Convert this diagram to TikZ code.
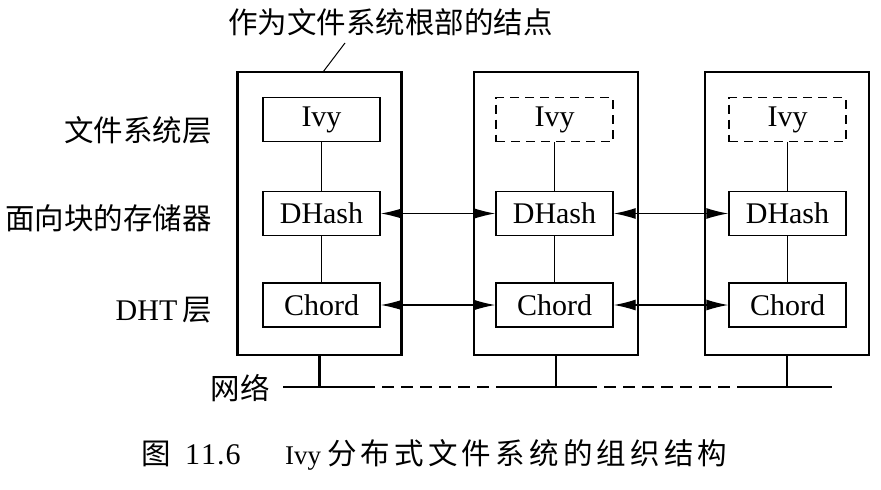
\documentclass[tikz,border=0pt]{standalone}
\usepackage{fontspec}
\setmainfont{Liberation Serif}
\newfontfamily\cjk{Noto Sans CJK SC}
\usetikzlibrary{arrows.meta}
\newcommand{\gapc}{\hspace{4.2pt}}
\begin{document}
\begin{tikzpicture}[x=1pt,y=-1pt,
  outerbox/.style={draw,line width=2.6pt,minimum width=164pt,minimum height=283pt,inner sep=0pt},
  innerbox/.style={draw,line width=1.3pt,minimum width=117pt,minimum height=44pt,inner sep=0pt,font=\fontsize{30}{32}\selectfont},
  ghostbox/.style={innerbox,dashed,dash pattern=on 9pt off 6pt},
  link/.style={line width=1pt},
  peer/.style={line width=1.3pt,{Latex[length=22pt,width=11pt]}-{Latex[length=22pt,width=11pt]}},
  net/.style={line width=2.6pt},
  lbl/.style={font=\cjk\fontsize{29.5}{31}\selectfont,inner sep=0pt}
]
\useasboundingbox (0,0) rectangle (881,490);
\fill[white] (0,0) rectangle (881,490);

% outer nodes
\node[outerbox] (n1) at (319.5,213.5) {};
\node[outerbox] (n2) at (556,213.5) {};
\node[outerbox] (n3) at (787,213.5) {};

% inner boxes
\node[innerbox] (ivy1) at (321.5,119.5) {Ivy};
\node[innerbox] (dh1) at (321.5,213.5) {DHash};
\node[innerbox] (ch1) at (321.5,305) {Chord};
\node[ghostbox] (ivy2) at (554.5,119.5) {Ivy};
\node[innerbox] (dh2) at (554.5,213.5) {DHash};
\node[innerbox] (ch2) at (554.5,305) {Chord};
\node[ghostbox] (ivy3) at (787.5,119.5) {Ivy};
\node[innerbox] (dh3) at (787.5,213.5) {DHash};
\node[innerbox] (ch3) at (787.5,305) {Chord};

\foreach \i in {1,2,3}{
  \draw[link] (ivy\i) -- (dh\i);
  \draw[link] (dh\i) -- (ch\i);
}
\draw[peer] (dh1) -- (dh2);
\draw[peer] (dh2) -- (dh3);
\draw[peer] (ch1) -- (ch2);
\draw[peer] (ch2) -- (ch3);

% network
\coordinate (s1) at (319.5,387);
\coordinate (s2) at (556,387);
\coordinate (s3) at (787,387);
\coordinate (a0) at (283,387);
\coordinate (a1) at (363,387);
\coordinate (a2) at (505,387);
\coordinate (a3) at (585,387);
\coordinate (a4) at (747,387);
\coordinate (a5) at (832,387);
\draw[net] (n1.south) -- (s1);
\draw[net] (n2.south) -- (s2);
\draw[net] (n3.south) -- (s3);
\draw[net] (a0) -- (a1);
\draw[net,dash pattern=on 12pt off 7pt] (a1) -- (a2);
\draw[net] (a2) -- (a3);
\draw[net,dash pattern=on 12pt off 7pt] (a3) -- (a4);
\draw[net] (a4) -- (a5);

% labels
\node[lbl,anchor=east] (lfs) at (212,130) {文件系统层};
\node[lbl,anchor=east] (lbs) at (212,218) {面向块的存储器};
\node[lbl,anchor=east] (ldht) at (212,310) {{\rmfamily\fontsize{30}{32}\selectfont DHT}\,层};
\node[lbl,anchor=east] (lnet) at (270,388) {网络};

\node[lbl,anchor=west] (top) at (228,22) {作为文件系统根部的结点};
\coordinate (lead1) at (345,43);
\coordinate (lead2) at (323,72);
\draw[line width=1pt] (lead1) -- (lead2);

\node[lbl,anchor=base west] (cap1) at (141,464) {图};
\node[lbl,anchor=base west,font=\rmfamily\fontsize{30}{32}\selectfont] (cap2) at (185,464) {1\hspace{1pt}1\hspace{1pt}.\hspace{1pt}6};
\node[lbl,anchor=base west,font=\rmfamily\fontsize{27}{30}\selectfont] (cap3) at (285,464) {Ivy};
\node[lbl,anchor=base west] (cap4) at (327,464) {分\gapc 布\gapc 式\gapc 文\gapc 件\gapc 系\gapc 统\gapc 的\gapc 组\gapc 织\gapc 结\gapc 构};
\end{tikzpicture}
\end{document}
